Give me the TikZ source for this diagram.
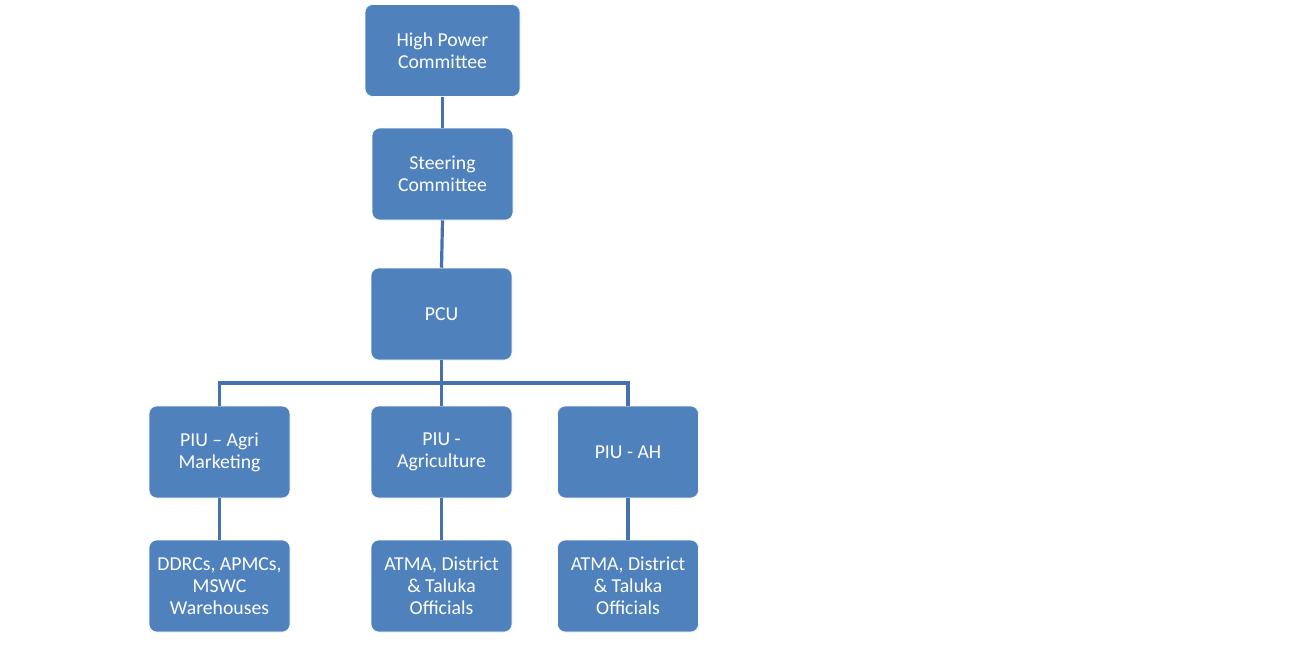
\documentclass[tikz,border=0pt]{standalone}
\usepackage{fontspec}
\setmainfont{Carlito}
\definecolor{boxblue}{HTML}{4F81BD}
\definecolor{lineblue}{HTML}{4572AE}

\begin{document}
\begin{tikzpicture}[x=0.75pt,y=-0.75pt,
    orgbox/.style={rectangle,rounded corners=6pt,fill=boxblue,draw=white,line width=0.4pt,
        text=white,font=\fontsize{14.8}{16.5}\selectfont,align=center,
        minimum width=105.75pt,minimum height=69pt,inner sep=2pt},
    link/.style={lineblue,line width=2.4pt}]
    \useasboundingbox (0,0) rectangle (1304,661);
    \node[orgbox,minimum width=116.25pt] (hpc) at (442.5,50.5) {High Power\\Committee};
    \node[orgbox] (sc) at (442.5,174) {Steering\\Committee};
    \node[orgbox] (pcu) at (441.5,314) {PCU};
    \node[orgbox] (piuam) at (219.5,452) {PIU -- Agri\\Marketing};
    \node[orgbox] (piuag) at (441.5,452) {PIU -\\Agriculture};
    \node[orgbox] (piuah) at (628,452) {PIU - AH};
    \node[orgbox] (ddrc) at (219.5,586) {DDRCs, APMCs,\\MSWC\\Warehouses};
    \node[orgbox] (atmaag) at (441.5,586) {ATMA, District\\\& Taluka\\Officials};
    \node[orgbox] (atmaah) at (628,586) {ATMA, District\\\& Taluka\\Officials};
    \coordinate (bus) at (441.5,383);
    \draw[link] (hpc.south) -- (sc.north);
    \draw[link] (sc.south) -- (pcu.north);
    \draw[link] (pcu.south) -- (bus);
    \draw[link] (bus) -| (piuam.north);
    \draw[link] (bus) -- (piuag.north);
    \draw[link] (bus) -| (piuah.north);
    \draw[link] (piuam.south) -- (ddrc.north);
    \draw[link] (piuag.south) -- (atmaag.north);
    \draw[link] (piuah.south) -- (atmaah.north);
\end{tikzpicture}
\end{document}
